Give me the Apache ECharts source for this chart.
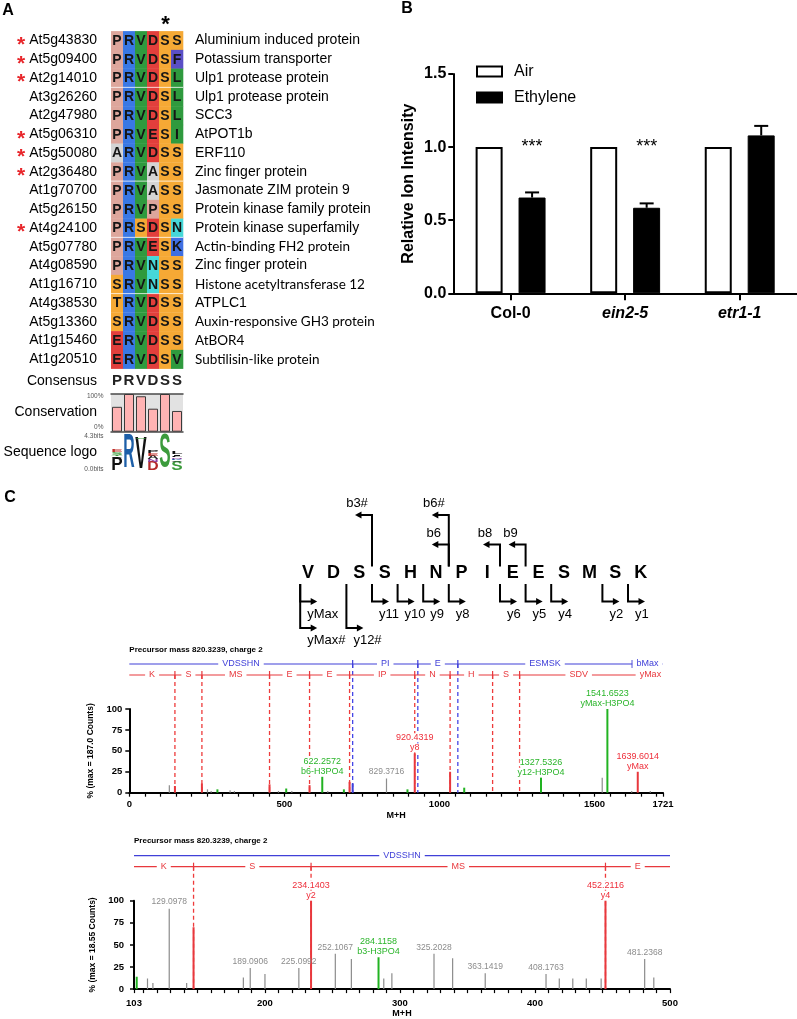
<!DOCTYPE html>
<html><head><meta charset="utf-8">
<script src="https://cdn.jsdelivr.net/npm/echarts@6/dist/echarts.min.js"></script>
<style>html,body{margin:0;padding:0;background:#fff}#c{width:797px;height:1019px}</style>
</head><body><div id="c"></div>
<script>
// ---------------- DATA ----------------
const geneIds = ['At5g43830','At5g09400','At2g14010','At3g26260','At2g47980','At5g06310','At5g50080','At2g36480','At1g70700','At5g26150','At4g24100','At5g07780','At4g08590','At1g16710','At4g38530','At5g13360','At1g15460','At1g20510'];
const descriptions = ['Aluminium induced protein','Potassium transporter','Ulp1 protease protein','Ulp1 protease protein','SCC3','AtPOT1b','ERF110','Zinc finger protein','Jasmonate ZIM protein 9','Protein kinase family protein','Protein kinase superfamily','Actin-binding FH2 protein','Zinc finger protein','Histone acetyltransferase 12','ATPLC1','Auxin-responsive GH3 protein','AtBOR4','Subtilisin-like protein'];
const sequences = ['PRVDSS','PRVDSF','PRVDSL','PRVDSL','PRVDSL','PRVESI','ARVDSS','PRVASS','PRVASS','PRVPSS','PRSDSN','PRVESK','PRVNSS','SRVNSS','TRVDSS','SRVDSS','ERVDSS','ERVDSV'];
const starredRows = [0,1,2,5,6,7,10];
const markedColumn = 4;
const groupStartRows = [3,8,11,14];
const consensus = ['P','R','V','D','S','S'];
const conservation = [0.66,1.0,0.94,0.61,1.0,0.55];
const logoStacks = [
  [['P',1.65],['A',0.2],['T',0.2],['S',0.3],['E',0.3]],
  [['R',4.3]],
  [['V',3.95],['S',0.2]],
  [['D',1.15],['N',0.3],['A',0.4],['E',0.35],['P',0.25]],
  [['S',4.3]],
  [['S',1.2],['V',0.15],['K',0.15],['N',0.2],['F',0.2],['I',0.2],['L',0.35]]
];

const genotypes = ['Col-0','ein2-5','etr1-1'];
const airValues = [1.0,1.0,1.0];
const ethyleneValues = [0.655,0.585,1.08];
const ethyleneErrors = [0.035,0.03,0.065];
const significance = ['***','***',''];

const peptide = ['V','D','S','S','H','N','P','I','E','E','S','M','S','K'];
// [name, series, cleavage after n residues, stacking level]
const fragmentIons = [
  ['b3#','b',3,2],['b6#','b',6,2],['b6','b',6,1],['b8','b',8,1],['b9','b',9,1],
  ['yMax','y',0,1],['yMax#','y',0,2],['y12#','y',2,2],['y11','y',3,1],['y10','y',4,1],['y9','y',5,1],
  ['y8','y',6,1],['y6','y',8,1],['y5','y',9,1],['y4','y',10,1],['y2','y',12,1],['y1','y',13,1]
];
const yIonBoundaries = [147.11,234.14,452.21,581.25,710.30,920.43,1034.47,1171.53,1258.56,1639.60];
const yIonSegmentLabels = ['K','S','MS','E','E','IP','N','H','S','SDV','yMax'];
const bIonBoundaries = [720.24,930.37,1059.41,1621.6];
const bIonSegmentLabels = ['VDSSHN','PI','E','ESMSK','bMax'];

// [m/z, % intensity, kind]  kind: n=unassigned, y=y ion, b=b ion, g=neutral loss
const spectrum1Peaks = [
  [129.1,9,'n'],[147.11,8,'y'],[234.14,11,'y'],[252.1,4,'n'],[264,2,'n'],[284.12,4,'g'],[325,3,'n'],[339,2,'n'],
  [452.21,10,'y'],[481,2,'n'],[506,5,'g'],[524,2,'n'],[581.25,9,'y'],[622.2572,19,'g'],[640,2,'n'],[692,4,'g'],
  [710.30,13,'y'],[720.24,11,'b'],[829.3716,17,'n'],[897,4,'g'],[920.4319,47,'y'],[1034.47,25,'y'],[1080,6,'g'],
  [1327.5326,18,'g'],[1525,18,'n'],[1541.6523,100,'g'],[1620,2,'n'],[1639.6014,25,'y'],[1680,2,'n']
];
const spectrum1Labels = [[622.2572,'b6-H3PO4','g'],[829.3716,'','n'],[920.4319,'y8','y'],[1327.5326,'y12-H3PO4','g'],[1541.6523,'yMax-H3PO4','g'],[1639.6014,'yMax','y']];
const spectrum2Peaks = [
  [105,14,'g'],[113,12,'n'],[117,7,'n'],[129.0978,91,'n'],[142,7,'n'],[147.11,70,'y'],[184,13,'n'],[189.0906,24,'n'],
  [200,17,'n'],[225.0992,24,'n'],[234.1403,100,'y'],[252.1067,40,'n'],[264,34,'n'],[284.1158,36,'g'],[288,12,'n'],
  [294,18,'n'],[325.2028,40,'n'],[339,35,'n'],[363.1419,18,'n'],[408.1763,17,'n'],[418,12,'n'],[428,12,'n'],
  [438,12,'n'],[449,12,'n'],[452.2116,100,'y'],[481.2368,34,'n'],[488,13,'n']
];
const spectrum2Labels = [[129.0978,'','n'],[189.0906,'','n'],[225.0992,'','n'],[234.1403,'y2','y'],[252.1067,'','n'],[284.1158,'b3-H3PO4','g'],[325.2028,'','n'],[363.1419,'','n'],[408.1763,'','n'],[452.2116,'y4','y'],[481.2368,'','n']];
const spectrum1TickLabels = [0,500,1000,1500,1721];
const spectrum2TickLabels = [103,200,300,400,500];
const intensityTicks = [0,25,50,75,100];

// ---------------- STYLE ----------------
const FONT = '"Liberation Sans", Arial, Helvetica, sans-serif';
const cellColor = {P:'#DDA69C',R:'#3A78E4',V:'#2F9A3E',D:'#E23F3C',S:'#F5A935',F:'#5A4FC6',L:'#2F9A3E',E:'#E23F3C',I:'#2F9A3E',A:'#D4D4D4',N:'#46D8D8',K:'#3F6FE2',T:'#F5A935'};
const logoColor = {P:'#111',A:'#222',V:'#111',L:'#111',I:'#111',F:'#111',M:'#111',R:'#1D5FA8',K:'#1D5FA8',H:'#1D5FA8',D:'#B52A2A',E:'#C0302A',S:'#3C9B3C',T:'#3C9B3C',N:'#8B3FA0'};
const calibriRows = [11,13,15,16,17];
const RED = '#E8383D', BLUE = '#4040D8', GREEN = '#22B322', GRAY = '#8C8C8C';
const peakColor = {n:GRAY, y:RED, b:BLUE, g:GREEN};

const mctx = document.createElement('canvas').getContext('2d');
mctx.font = 'bold 20px ' + FONT;

// ---------------- RENDERERS ----------------
function renderCell(params, api){
  const c = api.value(0), r = api.value(1);
  const ch = sequences[r][c];
  const p = api.coord([c, r]);
  const s = api.size([1, 1]);
  const kids = [
    {type:'rect', shape:{x:p[0]-s[0]/2, y:p[1]-s[1]/2, width:s[0]+0.3, height:s[1]+0.3}, style:{fill:cellColor[ch]}},
    {type:'text', x:p[0], y:p[1]+0.5, style:{text:ch, fill:'#151515', font:'bold 14px '+FONT, align:'center', verticalAlign:'middle'}}
  ];
  if (groupStartRows.indexOf(r) >= 0) kids.push({type:'line', shape:{x1:p[0]-s[0]/2, y1:p[1]-s[1]/2, x2:p[0]+s[0]/2+0.3, y2:p[1]-s[1]/2}, style:{stroke:'rgba(255,255,255,0.75)', lineWidth:1}});
  return {type:'group', children:kids};
}
function renderStar(params, api){
  const p = api.coord([0, api.value(1)]);
  return {type:'text', x:p[0]-96, y:p[1]+4.5, style:{text:'*', fill:'#E8262B', font:'bold 21px '+FONT, align:'center', verticalAlign:'middle'}};
}
function renderMark(params, api){
  const p = api.coord([api.value(0), 0]);
  return {type:'text', x:p[0]+0.5, y:p[1]-16, style:{text:'*', fill:'#000', font:'bold 22px '+FONT, align:'center', verticalAlign:'middle'}};
}
const logoItems = [];
logoStacks.forEach((stack, c) => { let b = 0; stack.forEach(([ch, h]) => { logoItems.push({c, b, h, ch}); b += h; }); });
function renderLogo(params, api){
  const o = logoItems[params.dataIndex];
  const p0 = api.coord([o.c, o.b]), p1 = api.coord([o.c, o.b + o.h]);
  const h = p0[1] - p1[1];
  const w = api.size([1, 0])[0] * 0.95;
  const adv = mctx.measureText(o.ch).width;
  return {type:'text', x:p0[0], y:p0[1]-h/2, scaleX:w/adv, scaleY:h/(0.716*20),
    style:{text:o.ch, fill:logoColor[o.ch]||'#111', font:'bold 20px '+FONT, align:'center', verticalAlign:'middle'}};
}
const BAR_OFFSET = 21.5;
function renderErr(params, api){
  const i = api.value(0), v = api.value(1), e = api.value(2);
  const b = api.coord([i, v]), t = api.coord([i, v + e]);
  const x = b[0] + BAR_OFFSET;
  return {type:'group', children:[
    {type:'line', shape:{x1:x, y1:b[1], x2:x, y2:t[1]}, style:{stroke:'#000', lineWidth:2}},
    {type:'line', shape:{x1:x-7, y1:t[1], x2:x+7, y2:t[1]}, style:{stroke:'#000', lineWidth:2}}
  ]};
}
function renderSig(params, api){
  const i = api.value(0);
  const p = api.coord([i, api.value(1)]);
  return {type:'text', x:p[0]+BAR_OFFSET, y:p[1]-0.5, style:{text:significance[i], fill:'#000', font:'18px '+FONT, align:'center', verticalAlign:'middle'}};
}
const LETTER_Y = 573.5, B_TOP = 566.5, Y_TOP = 584;
const B_LEVEL = {1:544.5, 2:515}, Y_LEVEL = {1:601.5, 2:628};
function renderResidue(params, api){
  const p = api.coord([api.value(0), 0]);
  return {type:'text', x:p[0], y:LETTER_Y, style:{text:peptide[params.dataIndex], fill:'#000', font:'bold 18px '+FONT, align:'center', verticalAlign:'middle'}};
}
function renderIon(params, api){
  const ion = fragmentIons[params.dataIndex];
  let x = api.coord([ion[2], 0])[0];
  if (ion[2] === 0) x += 5;
  const isB = ion[1] === 'b';
  const ly = isB ? B_LEVEL[ion[3]] : Y_LEVEL[ion[3]];
  const y0 = isB ? B_TOP : Y_TOP;
  const dir = isB ? -1 : 1;
  const tip = x + dir * 17;
  return {type:'group', children:[
    {type:'polyline', shape:{points:[[x,y0],[x,ly],[tip-dir*5,ly]]}, style:{stroke:'#000', lineWidth:2, fill:null}},
    {type:'polygon', shape:{points:[[tip,ly],[tip-dir*6.5,ly-3.5],[tip-dir*6.5,ly+3.5]]}, style:{fill:'#000'}},
    isB ? {type:'text', x:x-15, y:ly-11.5, style:{text:ion[0], fill:'#000', font:'13px '+FONT, align:'center', verticalAlign:'middle'}}
        : {type:'text', x:x+7, y:ly+12.5, style:{text:ion[0], fill:'#000', font:'13px '+FONT, align:'left', verticalAlign:'middle'}}
  ]};
}
function makeHeaderRenderer(xmin, xmax){
  return function(params, api){
    const top = api.coord([xmin, 100])[1];
    const base = api.coord([xmin, 0])[1];
    const X = m => api.coord([m, 0])[0];
    const rows = [
      {bounds:bIonBoundaries, labels:bIonSegmentLabels, y:top-45, color:BLUE, dash:'#4646E6'},
      {bounds:yIonBoundaries, labels:yIonSegmentLabels, y:top-34, color:RED, dash:'#EE3B3B'}
    ];
    const kids = [];
    rows.forEach(r => r.bounds.forEach((m, i) => {
      if (m <= xmin || m >= xmax || i === r.bounds.length - 1) return;
      kids.push({type:'line', shape:{x1:X(m), y1:r.y, x2:X(m), y2:base}, style:{stroke:r.dash, lineWidth:1.3, lineDash:[4,3]}});
    }));
    rows.forEach(r => {
      kids.push({type:'line', shape:{x1:X(xmin), y1:r.y, x2:X(xmax), y2:r.y}, style:{stroke:r.color, lineWidth:1.2}});
      r.bounds.forEach(m => { if (m > xmin && m < xmax) kids.push({type:'line', shape:{x1:X(m), y1:r.y-4, x2:X(m), y2:r.y+4}, style:{stroke:r.color, lineWidth:1.2}}); });
      const edges = [-Infinity].concat(r.bounds, [Infinity]);
      r.labels.forEach((lab, j) => {
        const a = Math.max(edges[j], xmin), b = Math.min(edges[j+1], xmax);
        if (b <= a) return;
        kids.push({type:'text', x:(X(a)+X(b))/2, y:r.y, style:{text:lab, fill:r.color, font:'9px '+FONT, align:'center', verticalAlign:'middle', backgroundColor:'#fff', padding:[0,4]}});
      });
    });
    return {type:'group', children:kids};
  };
}
function makePeakRenderer(peaks){
  return function(params, api){
    const d = peaks[params.dataIndex];
    const p0 = api.coord([d[0], 0]), p1 = api.coord([d[0], d[1]]);
    return {type:'line', shape:{x1:p0[0], y1:p0[1], x2:p1[0], y2:p1[1]}, style:{stroke:peakColor[d[2]], lineWidth:d[2]==='n'?1.2:2}};
  };
}
function nearestHeight(peaks, m){
  let best = peaks[0];
  peaks.forEach(p => { if (Math.abs(p[0]-m) < Math.abs(best[0]-m)) best = p; });
  return best[1];
}
function makeLabelRenderer(peaks, labels){
  return function(params, api){
    const L = labels[params.dataIndex];
    const p = api.coord([L[0], nearestHeight(peaks, L[0])]);
    const col = L[2]==='y' ? '#EE2E3A' : (L[2]==='g' ? '#2BB52B' : GRAY);
    const f = (L[2]==='n' ? '8.5px ' : '9px ') + FONT;
    const t = (s, y) => ({type:'text', x:p[0], y:y, style:{text:s, fill:col, font:f, align:'center', verticalAlign:'middle', backgroundColor: L[2]==='n' ? null : '#fff'}});
    const kids = L[1] ? [t(L[0].toFixed(4), p[1]-15.5), t(L[1], p[1]-5.5)] : [t(L[0].toFixed(4), p[1]-6.5)];
    return {type:'group', children:kids};
  };
}
function range(a, b, s){ const r = []; for (let v = a; v <= b + 1e-9; v += s) r.push(v); return r; }

// ---------------- AXES ----------------
const blackLine = w => ({show:true, lineStyle:{color:'#000', width:w}});
function specX(grid, min, max, labels, ticks, gap, margin){
  return {gridIndex:grid, type:'value', min:min, max:max,
    axisLine:blackLine(2), splitLine:{show:false},
    axisTick:{show:true, customValues:ticks, length:4, lineStyle:{color:'#000', width:1.2}},
    axisLabel:{customValues:labels, formatter:v => String(Math.round(v)), fontSize:9.5, fontWeight:'bold', color:'#000', fontFamily:FONT, margin:margin},
    name:'M+H', nameLocation:'middle', nameGap:gap, nameTextStyle:{fontSize:9, fontWeight:'bold', color:'#000', fontFamily:FONT}};
}
function specY(grid, name, gap, margin){
  return {gridIndex:grid, type:'value', min:0, max:100, interval:25,
    axisLine:blackLine(2), splitLine:{show:false},
    axisTick:{show:true, length:4, lineStyle:{color:'#000', width:1.5}},
    axisLabel:{fontSize:9.5, fontWeight:'bold', color:'#000', fontFamily:FONT, margin:margin, customValues:intensityTicks},
    name:name, nameLocation:'middle', nameGap:gap, nameRotate:90, nameTextStyle:{fontSize:8.5, fontWeight:'bold', color:'#000', fontFamily:FONT}};
}

const option = {
  animation:false,
  backgroundColor:'#fff',
  textStyle:{fontFamily:FONT},
  grid:[
    {left:111, top:31.1, width:72, height:337.5},
    {left:111, top:394, width:72, height:37.7, show:true, backgroundColor:'#E2E2E2', borderWidth:0},
    {left:111, top:436.5, width:72, height:35},
    {left:453.3, top:74, width:343.7, height:219.3},
    {left:295.2, top:480, width:358.4, height:170},
    {left:129.3, top:709, width:533.7, height:83.7},
    {left:134, top:900.7, width:536, height:91}
  ],
  legend:{data:['Air','Ethylene'], left:476, top:63.5, padding:0, orient:'vertical', icon:'rect', itemWidth:25, itemHeight:10, itemGap:10, selectedMode:false,
    textStyle:{fontSize:16, color:'#000', fontFamily:FONT, padding:[0,0,0,7]}},
  xAxis:[
    {gridIndex:0, type:'category', data:consensus, axisLine:{show:false}, axisTick:{show:false}, splitLine:{show:false},
      axisLabel:{interval:0, margin:5, fontSize:15, fontWeight:'bold', color:'#222', fontFamily:FONT}},
    {gridIndex:1, type:'category', data:consensus, axisLine:{show:true, lineStyle:{color:'#4a4a4a', width:1.5}}, axisTick:{show:false}, axisLabel:{show:false}},
    {gridIndex:1, type:'category', position:'top', data:consensus, axisLine:{show:true, lineStyle:{color:'#4a4a4a', width:1.5}}, axisTick:{show:false}, axisLabel:{show:false}},
    {gridIndex:2, type:'category', data:consensus, show:false},
    {gridIndex:3, type:'category', data:genotypes, axisLine:blackLine(2),
      axisTick:{show:true, alignWithLabel:true, length:7, lineStyle:{color:'#000', width:2}},
      axisLabel:{margin:12, fontSize:16, fontWeight:'bold', color:'#000', fontFamily:FONT,
        formatter:v => v === 'Col-0' ? v : '{i|' + v + '}',
        rich:{i:{fontSize:16, fontWeight:'bold', fontStyle:'italic', color:'#000', fontFamily:FONT}}}},
    {gridIndex:4, type:'value', min:0, max:14, show:false},
    specX(5, 0, 1721, spectrum1TickLabels, range(0, 1700, 50).concat([1721]), 16, 7),
    specX(6, 103, 500, spectrum2TickLabels, [103].concat(range(110, 500, 10)), 19, 9)
  ],
  yAxis:[
    {gridIndex:0, type:'category', data:geneIds, inverse:true, axisLine:{show:false}, axisTick:{show:false}, splitLine:{show:false},
      axisLabel:{interval:0, margin:14, fontSize:14, color:'#000', fontFamily:FONT}},
    {gridIndex:0, type:'category', data:descriptions, inverse:true, position:'right', axisLine:{show:false}, axisTick:{show:false}, splitLine:{show:false},
      axisLabel:{interval:0, margin:12, color:'#000',
        formatter:(v, i) => calibriRows.indexOf(i) >= 0 ? '{c|' + v + '}' : '{a|' + v + '}',
        rich:{a:{fontSize:14, fontFamily:FONT, color:'#000'}, c:{fontSize:13.5, fontFamily:'Lato', color:'#000'}}}},
    {gridIndex:1, type:'value', min:0, max:1, show:false},
    {gridIndex:2, type:'value', min:0, max:4.3, show:false},
    {gridIndex:3, type:'value', min:0, max:1.5, interval:0.5, axisLine:blackLine(2), splitLine:{show:false},
      axisTick:{show:true, length:5, lineStyle:{color:'#000', width:2}},
      axisLabel:{formatter:v => v.toFixed(1), fontSize:16, fontWeight:'bold', color:'#000', fontFamily:FONT, margin:7},
      name:'Relative Ion Intensity', nameLocation:'middle', nameGap:37, nameRotate:90,
      nameTextStyle:{fontSize:16, fontWeight:'bold', color:'#000', fontFamily:FONT}},
    {gridIndex:4, type:'value', min:0, max:1, show:false},
    specY(5, '% (max = 187.0 Counts)', 31, 7),
    specY(6, '% (max = 18.55 Counts)', 36, 10)
  ],
  graphic:[
    {type:'text', x:8, y:11, style:{text:'A', font:'bold 16px '+FONT, fill:'#000', align:'center', verticalAlign:'middle'}},
    {type:'text', x:407, y:9, style:{text:'B', font:'bold 16px '+FONT, fill:'#000', align:'center', verticalAlign:'middle'}},
    {type:'text', x:10, y:498, style:{text:'C', font:'bold 16px '+FONT, fill:'#000', align:'center', verticalAlign:'middle'}},
    {type:'text', x:97, y:381.5, style:{text:'Consensus', font:'14px '+FONT, fill:'#000', align:'right', verticalAlign:'middle'}},
    {type:'text', x:97, y:412.5, style:{text:'Conservation', font:'14px '+FONT, fill:'#000', align:'right', verticalAlign:'middle'}},
    {type:'text', x:97, y:452, style:{text:'Sequence logo', font:'14px '+FONT, fill:'#000', align:'right', verticalAlign:'middle'}},
    {type:'text', x:103.5, y:396.5, style:{text:'100%', font:'6.5px '+FONT, fill:'#555', align:'right', verticalAlign:'middle'}},
    {type:'text', x:103.5, y:427.5, style:{text:'0%', font:'6.5px '+FONT, fill:'#555', align:'right', verticalAlign:'middle'}},
    {type:'text', x:103.5, y:436.5, style:{text:'4.3bits', font:'6.5px '+FONT, fill:'#555', align:'right', verticalAlign:'middle'}},
    {type:'text', x:103.5, y:469.5, style:{text:'0.0bits', font:'6.5px '+FONT, fill:'#555', align:'right', verticalAlign:'middle'}},
    {type:'text', x:129.3, y:649.5, style:{text:'Precursor mass 820.3239, charge 2', font:'bold 8px '+FONT, fill:'#000', align:'left', verticalAlign:'middle'}},
    {type:'text', x:134, y:841, style:{text:'Precursor mass 820.3239, charge 2', font:'bold 8px '+FONT, fill:'#000', align:'left', verticalAlign:'middle'}}
  ],
  series:[
    {type:'custom', xAxisIndex:0, yAxisIndex:0, renderItem:renderCell, silent:true,
      data:sequences.flatMap((s, r) => s.split('').map((ch, c) => [c, r]))},
    {type:'custom', xAxisIndex:0, yAxisIndex:0, renderItem:renderStar, silent:true, data:starredRows.map(r => [0, r])},
    {type:'custom', xAxisIndex:0, yAxisIndex:0, renderItem:renderMark, silent:true, data:[[markedColumn, 0]]},
    {type:'bar', xAxisIndex:1, yAxisIndex:2, data:conservation, barWidth:10, silent:true,
      itemStyle:{color:'#FFB3B3', borderColor:'#3a3a3a', borderWidth:1}},
    {type:'custom', xAxisIndex:3, yAxisIndex:3, renderItem:renderLogo, silent:true, data:logoItems.map(o => [o.c, o.b, o.h])},
    {type:'bar', name:'Air', xAxisIndex:4, yAxisIndex:4, data:airValues, barWidth:27, barGap:'59%', silent:true,
      itemStyle:{color:'#fff', borderColor:'#000', borderWidth:2}},
    {type:'bar', name:'Ethylene', xAxisIndex:4, yAxisIndex:4, data:ethyleneValues, barWidth:27, barGap:'59%', silent:true,
      itemStyle:{color:'#000', borderColor:'#000', borderWidth:1}},
    {type:'custom', xAxisIndex:4, yAxisIndex:4, renderItem:renderErr, silent:true, z:5,
      data:ethyleneValues.map((v, i) => [i, v, ethyleneErrors[i]])},
    {type:'custom', xAxisIndex:4, yAxisIndex:4, renderItem:renderSig, silent:true, z:5,
      data:airValues.map((v, i) => [i, v])},
    {type:'custom', xAxisIndex:5, yAxisIndex:5, renderItem:renderResidue, silent:true, data:peptide.map((ch, i) => [i + 0.5, 0])},
    {type:'custom', xAxisIndex:5, yAxisIndex:5, renderItem:renderIon, silent:true, data:fragmentIons.map(d => [d[2], 0])},
    {type:'custom', xAxisIndex:6, yAxisIndex:6, renderItem:makeHeaderRenderer(0, 1721), silent:true, z:1, data:[[0, 0]]},
    {type:'custom', xAxisIndex:6, yAxisIndex:6, renderItem:makePeakRenderer(spectrum1Peaks), silent:true, z:3, data:spectrum1Peaks.map(d => [d[0], d[1]])},
    {type:'custom', xAxisIndex:6, yAxisIndex:6, renderItem:makeLabelRenderer(spectrum1Peaks, spectrum1Labels), silent:true, z:4, data:spectrum1Labels.map(d => [d[0], 0])},
    {type:'custom', xAxisIndex:7, yAxisIndex:7, renderItem:makeHeaderRenderer(103, 500), silent:true, z:1, data:[[103, 0]]},
    {type:'custom', xAxisIndex:7, yAxisIndex:7, renderItem:makePeakRenderer(spectrum2Peaks), silent:true, z:3, data:spectrum2Peaks.map(d => [d[0], d[1]])},
    {type:'custom', xAxisIndex:7, yAxisIndex:7, renderItem:makeLabelRenderer(spectrum2Peaks, spectrum2Labels), silent:true, z:4, data:spectrum2Labels.map(d => [d[0], 0])}
  ]
};
const chart = echarts.init(document.getElementById('c'), null, {renderer:'canvas', width:797, height:1019});
chart.setOption(option);
</script></body></html>
